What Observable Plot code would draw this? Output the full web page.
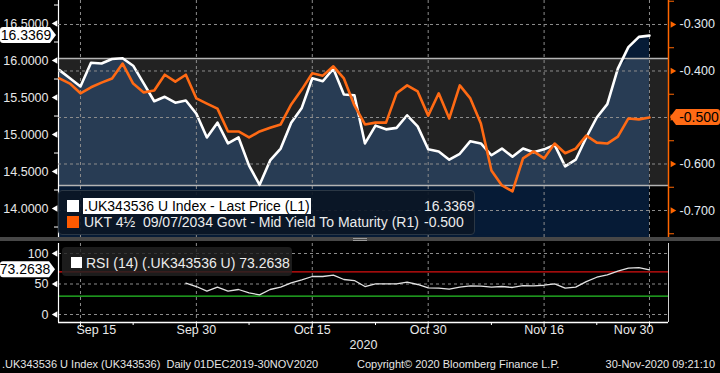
<!DOCTYPE html>
<html><head><meta charset="utf-8">
<script src="https://cdn.jsdelivr.net/npm/d3@7"></script>
<script src="https://cdn.jsdelivr.net/npm/@observablehq/plot@0.6"></script>
<style>
html,body{margin:0;padding:0;background:#000;}
#chart{position:relative;width:720px;height:373px;background:#000;overflow:hidden;font-family:'Liberation Sans',Arial,sans-serif;color:#ececec;}
.layer{position:absolute;left:0;}
.layer svg{display:block;}
.abs{position:absolute;white-space:pre;}
</style></head><body><div id="chart"></div>
<script>
// ---------- data ----------
const dates = ["2020-09-11","2020-09-14","2020-09-15","2020-09-16","2020-09-17","2020-09-18","2020-09-21","2020-09-22","2020-09-23","2020-09-24","2020-09-25","2020-09-28","2020-09-29","2020-09-30","2020-10-01","2020-10-02","2020-10-05","2020-10-06","2020-10-07","2020-10-08","2020-10-09","2020-10-12","2020-10-13","2020-10-14","2020-10-15","2020-10-16","2020-10-19","2020-10-20","2020-10-21","2020-10-22","2020-10-23","2020-10-26","2020-10-27","2020-10-28","2020-10-29","2020-10-30","2020-11-02","2020-11-03","2020-11-04","2020-11-05","2020-11-06","2020-11-09","2020-11-10","2020-11-11","2020-11-12","2020-11-13","2020-11-16","2020-11-17","2020-11-18","2020-11-19","2020-11-20","2020-11-23","2020-11-24","2020-11-25","2020-11-26","2020-11-27","2020-11-30"];
const price = [15.87,15.76,15.65,15.97,15.96,16.02,16.03,15.93,15.69,15.45,15.51,15.43,15.46,15.28,14.96,15.16,14.88,14.96,14.58,14.32,14.65,14.81,15.16,15.36,15.76,15.72,15.89,15.54,15.53,14.88,15.12,15.07,15.09,15.26,15.11,14.80,14.77,14.66,14.74,14.91,14.88,14.72,14.81,14.70,14.81,14.76,14.80,14.86,14.57,14.66,14.96,15.23,15.41,15.89,16.18,16.32,16.3369];
const yieldPct = [-0.416,-0.427,-0.448,-0.435,-0.425,-0.416,-0.384,-0.427,-0.446,-0.442,-0.408,-0.423,-0.408,-0.459,-0.470,-0.481,-0.530,-0.530,-0.543,-0.530,-0.522,-0.515,-0.472,-0.440,-0.405,-0.410,-0.390,-0.416,-0.474,-0.515,-0.511,-0.511,-0.448,-0.431,-0.444,-0.496,-0.448,-0.502,-0.431,-0.459,-0.513,-0.614,-0.646,-0.659,-0.588,-0.573,-0.588,-0.556,-0.577,-0.567,-0.539,-0.554,-0.556,-0.541,-0.502,-0.504,-0.500];
const rsi = [null,null,null,null,null,null,null,null,null,null,null,null,51.3,45.9,38.2,44.8,38.2,41.0,35.5,32.2,41.0,44.8,52.0,56.9,62.3,62.3,64.4,57.4,55.7,45.9,50.3,50.3,50.3,53.0,49.2,43.8,43.1,41.5,44.8,47.0,46.4,44.8,45.9,44.3,47.5,47.0,48.0,50.3,43.1,44.8,54.0,61.1,65.0,71.0,75.9,77.0,73.2638];
const majorTickDates = ["2020-09-15","2020-09-30","2020-10-15","2020-10-30","2020-11-16","2020-11-30"];
const majorTickLabels = ["Sep 15","Sep 30","Oct 15","Oct 30","Nov 16","Nov 30"];
const minorTickDates = ["2020-09-22","2020-10-07","2020-10-23","2020-11-09","2020-11-23"];
const leftTicks = [14.0,14.5,15.0,15.5,16.0,16.5];
const leftMinorTicks = [13.75,14.25,14.75,15.25,15.75,16.25,16.75];
const rightTicks = [-0.7,-0.6,-0.5,-0.4,-0.3];
const rightMinorTicks = [-0.75,-0.65,-0.55,-0.45,-0.35,-0.25];
const rsiTicks = [0,50,100];
const rsiOverbought = [70];
const rsiOversold = [30];
const priceRange = [14.311, 16.027];
const seriesNames = [".UK343536 U Index - Last Price (L1)", "UKT 4\u00BD  09/07/2034 Govt - Mid Yield To Maturity (R1)"];
const lastLabels = ["16.3369", "-0.500"];
const lastPrice = 16.3369, lastYield = -0.500, lastRsi = 73.2638;
const rsiName = "RSI (14) (.UK343536 U) 73.2638";
const yearLabel = "2020";
const footerTexts = [".UK343536 U Index (UK343536)  Daily 01DEC2019-30NOV2020", "Copyright\u00A9 2020 Bloomberg Finance L.P.", "30-Nov-2020 09:21:10"];

// ---------- setup ----------
const FONT = "'Liberation Sans', Arial, sans-serif";
const rows = dates.map((d, i) => ({i, date: d, price: price[i], yld: yieldPct[i], rsi: rsi[i]}));
const idx = d => dates.indexOf(d);
const majorIdx = majorTickDates.map(idx);
const minorIdx = minorTickDates.map(idx);
const tickRows = majorTickDates.map((d, k) => ({i: idx(d), label: majorTickLabels[k]}));
const xDomain = [-0.085, 57.806];
const leftDomain = [13.595, 16.811];
const rightDomain = [-0.7602, -0.2484];
const rsiDomain = [-13.1, 116.4];
const grid = {stroke: "#8c8c8c", strokeDasharray: "3,3", strokeWidth: 1};
const baseStyle = {background: "transparent", fontFamily: FONT, fontSize: "12.5px", color: "#e6e6e6", overflow: "visible"};
const chart = document.getElementById("chart");

function layer(el, top) {
  const d = document.createElement("div");
  d.className = "layer"; d.style.top = top + "px";
  d.appendChild(el); chart.appendChild(d);
}
function tag(svg, cy, x0, x1, xp, fill, text, tx) {
  const s = d3.select(svg);
  const h = 8, r = 3;
  let p;
  if (xp > x1) { // points right
    p = `M${x0 + r},${cy - h}H${x1}L${xp},${cy}L${x1},${cy + h}H${x0 + r}Q${x0},${cy + h} ${x0},${cy + h - r}V${cy - h + r}Q${x0},${cy - h} ${x0 + r},${cy - h}Z`;
  } else { // points left
    p = `M${x1 - r},${cy - h}H${x0}L${xp},${cy}L${x0},${cy + h}H${x1 - r}Q${x1},${cy + h} ${x1},${cy + h - r}V${cy - h + r}Q${x1},${cy - h} ${x1 - r},${cy - h}Z`;
  }
  s.append("path").attr("d", p).attr("fill", fill);
  s.append("text").attr("x", tx).attr("y", cy).attr("dy", "0.36em").attr("text-anchor", "middle")
    .attr("fill", "#000").attr("font-size", "14px").attr("font-family", FONT).text(text);
}

// ---------- main panel, left scale (price) ----------
const P1 = Plot.plot({
  width: 720, height: 238, marginLeft: 58, marginRight: 52, marginTop: 0, marginBottom: 0,
  x: {type: "linear", domain: xDomain, axis: null},
  y: {domain: leftDomain},
  style: baseStyle,
  marks: [
    Plot.rect([priceRange], {x1: xDomain[0], x2: xDomain[1], y1: d => d[0], y2: d => d[1], fill: "#222222"}),
    Plot.areaY(rows, {x: "i", y1: leftDomain[0], y2: "price", fill: "#061b36"}),
    Plot.areaY(rows, {x: "i", y1: priceRange[0], y2: d => Math.min(d.price, priceRange[1]), fill: "#283c54"}),
    Plot.ruleX(majorIdx, grid),
    Plot.ruleY(priceRange, {stroke: "#b4b4b4", strokeWidth: 1.6}),
    Plot.line(rows, {x: "i", y: "price", stroke: "#ffffff", strokeWidth: 2.6}),
    Plot.ruleX([xDomain[0]], {stroke: "#ffffff", strokeWidth: 1.2}),
    Plot.axisY(leftMinorTicks, {anchor: "left", label: null, tickSize: 4, tickFormat: () => "", stroke: "#ffffff"}),
    Plot.axisY(leftTicks, {anchor: "left", label: null, tickSize: 0, tickPadding: 10, tickFormat: d3.format(".4f"), fill: "#e8e8e8", fontSize: 12.5}),
    Plot.dot(leftTicks, {y: d => d, frameAnchor: "left", symbol: "triangle", r: 2.4, rotate: -90, fill: "#ffffff", dx: -3})
  ]
});
layer(P1, 0);
tag(P1, P1.scale("y").apply(lastPrice), 0, 50, 56, "#ffffff", lastLabels[0], 26);

// ---------- main panel, right scale (yield) ----------
const P2 = Plot.plot({
  width: 720, height: 238, marginLeft: 58, marginRight: 52, marginTop: 0, marginBottom: 0,
  x: {type: "linear", domain: xDomain, axis: null},
  y: {domain: rightDomain},
  style: baseStyle,
  marks: [
    Plot.ruleY(rightTicks, grid),
    Plot.line(rows, {x: "i", y: "yld", stroke: "#ff6a14", strokeWidth: 2.6}),
    Plot.ruleX([xDomain[1]], {stroke: "#ff6600", strokeWidth: 1.5}),
    Plot.axisY(rightMinorTicks, {anchor: "right", label: null, tickSize: 5, tickFormat: () => "", stroke: "#ff6600"}),
    // the last-value tag covers the label at the last value, as in the reference
    Plot.axisY(rightTicks.filter(t => t !== lastYield), {anchor: "right", label: null, tickSize: 0, tickPadding: 11, tickFormat: d => d.toFixed(3), fill: "#e4ecf4", fontSize: 12.5}),
    Plot.dot(rightTicks, {y: d => d, frameAnchor: "right", symbol: "triangle", r: 2.4, rotate: 90, fill: "#ff6600", dx: 4})
  ]
});
layer(P2, 0);
tag(P2, P2.scale("y").apply(lastYield), 676, 720, 670, "#ff6a14", lastLabels[1], 699);

// ---------- separator ----------
const sep = document.createElement("div");
sep.className = "abs"; Object.assign(sep.style, {left: "0px", top: "237px", width: "720px", height: "4px", background: "#474747"});
chart.appendChild(sep);
for (const t of [238, 240]) {
  const g = document.createElement("div");
  g.className = "abs"; Object.assign(g.style, {left: "353px", top: t + "px", width: "14px", height: "1px", background: "#9a9a9a"});
  chart.appendChild(g);
}

// ---------- main legend ----------
function addDiv(style, text, inner) {
  const d = document.createElement("div");
  d.className = "abs"; Object.assign(d.style, style);
  if (inner) d.appendChild(inner); else if (text != null) d.textContent = text;
  chart.appendChild(d); return d;
}
addDiv({left: "58px", top: "190px", width: "417px", height: "45px", background: "rgba(11,22,37,0.92)", border: "1px solid #2b3744", borderRadius: "4px", boxSizing: "border-box"});
addDiv({left: "67px", top: "200px", width: "12px", height: "12px", background: "#ffffff"});
addDiv({left: "67px", top: "216px", width: "12px", height: "12px", background: "#ff5a00"});
const hl = document.createElement("span");
hl.textContent = seriesNames[0];
Object.assign(hl.style, {background: "#ffffff", color: "#000", padding: "0 1px"});
addDiv({left: "83px", top: "199px", height: "14px", lineHeight: "14px", fontSize: "14px"}, null, hl);
addDiv({left: "84px", top: "215px", height: "14px", lineHeight: "14px", fontSize: "14px", color: "#ececec"}, seriesNames[1]);
addDiv({left: "424px", top: "199px", lineHeight: "14px", fontSize: "14px", color: "#ececec"}, lastLabels[0]);
addDiv({left: "424px", top: "215px", lineHeight: "14px", fontSize: "14px", color: "#ececec"}, lastLabels[1]);

// ---------- RSI panel ----------
const rsiRows = rows.filter(d => d.rsi != null);
const P3 = Plot.plot({
  width: 720, height: 133, marginLeft: 58, marginRight: 52, marginTop: 3, marginBottom: 51,
  x: {type: "linear", domain: xDomain},
  y: {domain: rsiDomain},
  style: baseStyle,
  marks: [
    Plot.ruleX(majorIdx, grid),
    Plot.ruleY(rsiTicks, grid),
    Plot.ruleY(rsiOverbought, {stroke: "#d81010", strokeWidth: 1.2}),
    Plot.ruleY(rsiOversold, {stroke: "#27c427", strokeWidth: 1.2}),
    Plot.line(rsiRows, {x: "i", y: "rsi", stroke: "#e2e2e2", strokeWidth: 1.3}),
    Plot.ruleX([xDomain[0]], {stroke: "#ffffff", strokeWidth: 1.2}),
    Plot.ruleX([xDomain[1]], {stroke: "#cfcfcf", strokeWidth: 1}),
    Plot.ruleY([rsiDomain[0]], {stroke: "#ffffff", strokeWidth: 1.4}),
    Plot.axisY(rsiTicks, {anchor: "left", label: null, tickSize: 0, tickPadding: 10, fill: "#e8e8e8", fontSize: 12.5}),
    Plot.dot(rsiTicks, {y: d => d, frameAnchor: "left", symbol: "triangle", r: 2.4, rotate: -90, fill: "#ffffff", dx: -3}),
    Plot.axisX(majorIdx, {label: null, tickSize: 5, tickFormat: () => "", stroke: "#ffffff"}),
    Plot.axisX(minorIdx, {label: null, tickSize: 3, tickFormat: () => "", stroke: "#ffffff"}),
    Plot.text(tickRows.slice(1, -1), {x: "i", text: "label", frameAnchor: "bottom", dy: 11, fill: "#e8e8e8", fontSize: 12.5}),
    Plot.text(tickRows.slice(0, 1), {x: "i", text: "label", frameAnchor: "bottom", dy: 11, dx: -4, textAnchor: "start", fill: "#e8e8e8", fontSize: 12.5}),
    Plot.text(tickRows.slice(-1), {x: "i", text: "label", frameAnchor: "bottom", dy: 11, dx: 4, textAnchor: "end", fill: "#e8e8e8", fontSize: 12.5}),
    Plot.text([yearLabel], {frameAnchor: "bottom", dy: 26, fill: "#e8e8e8", fontSize: 12.5})
  ]
});
layer(P3, 240);
tag(P3, P3.scale("y").apply(lastRsi), 0, 49, 55, "#ffffff", lastRsi.toFixed(4), 25);

// RSI legend
addDiv({left: "62px", top: "247px", width: "230px", height: "29px", background: "rgba(34,34,34,0.82)", borderRadius: "4px"});
addDiv({left: "71px", top: "257px", width: "11px", height: "11px", background: "#ffffff"});
addDiv({left: "86px", top: "256px", lineHeight: "14px", fontSize: "14px", color: "#ececec"}, rsiName);

// footer
addDiv({left: "2px", top: "359px", lineHeight: "11px", fontSize: "11px", color: "#e6e6e6"}, footerTexts[0]);
addDiv({left: "357px", top: "359px", lineHeight: "11px", fontSize: "11px", color: "#e6e6e6"}, footerTexts[1]);
addDiv({right: "5px", top: "359px", lineHeight: "11px", fontSize: "11px", color: "#e6e6e6"}, footerTexts[2]);
</script></body></html>
